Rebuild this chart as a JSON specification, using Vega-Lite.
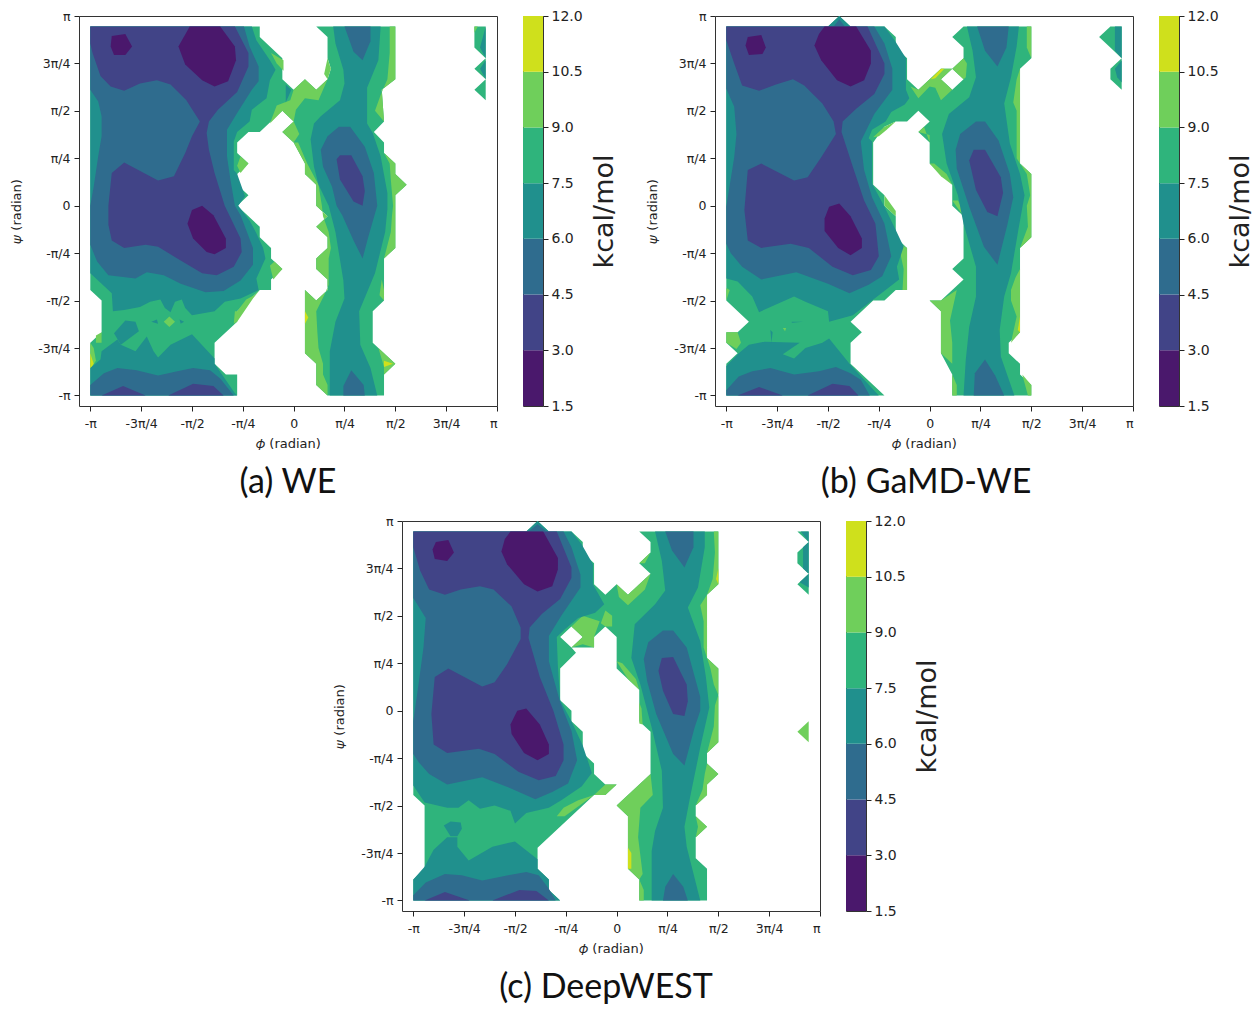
{"$schema":"https://vega.github.io/schema/vega-lite/v6.json","background":"white","padding":{"left":10,"top":8,"right":0,"bottom":0},
"config":{"view":{"stroke":"#333"},"axis":{"grid":false,"domain":false,"tickColor":"#222","tickSize":5,"labelColor":"#222","titleColor":"#222","labelFont":"DejaVu Sans","titleFont":"DejaVu Sans","labelFontSize":12.5,"titleFontSize":13,"titleFontWeight":"normal","labelAngle":0},"axisX":{"labelPadding":6},"axisY":{"labelPadding":4},"title":{"font":"Lato","fontSize":34,"fontWeight":"normal","color":"#111"}},
"datasets":{
"bar":[{"lo":1.5,"hi":3,"l":1},{"lo":3,"hi":4.5,"l":2},{"lo":4.5,"hi":6,"l":3},{"lo":6,"hi":7.5,"l":4},{"lo":7.5,"hi":9,"l":5},{"lo":9,"hi":10.5,"l":6},{"lo":10.5,"hi":12,"l":7}],
"a":[
{"g":1,"l":5,"phi":[-180,-30,-30,-10,-10,0,10,20,30,33,30,30,20,90,90,78,80,71,80,80,90,90,100,90,90,80,80,70,70,90,80,80,30,20,20,10,10,20,30,30,20,20,30,30,20,30,20,20,10,10,0,-10,0,-10,-30,-40,-50,-50,-40,-50,-50,-40,-50,-30,-30,-20,-20,-10,-20,-20,-30,-50,-50,-70,-70,-60,-50,-50,-180,-180,-170,-170,-180],"psi":[170,170,160,140,120,110,120,110,120,130,140,160,170,170,120,110,80,70,60,50,40,30,20,10,-40,-50,-90,-100,-130,-150,-160,-180,-180,-170,-150,-140,-80,-90,-80,-70,-60,-50,-40,-30,-20,-10,0,20,30,40,60,70,80,90,70,70,60,50,40,30,20,10,0,-20,-30,-40,-50,-60,-70,-80,-80,-100,-110,-130,-150,-160,-160,-180,-180,-130,-120,-90,-80]},
{"g":2,"l":5,"phi":[160,170,170,160,170,160,170,160],"psi":[170,170,100,110,120,130,140,150]},
{"g":3,"l":6,"phi":[-20,-9,-9,-15],"psi":[145,138,128,135]},
{"g":4,"l":6,"phi":[-21,-10,0,2,10,22,30,20,10,0,-3,-15],"psi":[78,90,80,91,102,100,120,110,120,110,100,95]},
{"g":5,"l":6,"phi":[0,-10,0,5],"psi":[80,70,60,68]},
{"g":6,"l":6,"phi":[-47,-40,-47,-50],"psi":[47,40,31,38]},
{"g":7,"l":6,"phi":[-21,-17,-10,-18],"psi":[-57,-53,-60,-70]},
{"g":8,"l":6,"phi":[-50,-42,-35,-30,-36,-50,-53,-52],"psi":[-100,-89,-85,-80,-88,-110,-112,-100]},
{"g":9,"l":6,"phi":[-175,-170,-170,-175],"psi":[-123,-120,-130,-130]},
{"g":10,"l":6,"phi":[-180,-180,-175,-177],"psi":[-130,-155,-147,-135]},
{"g":11,"l":6,"phi":[-115,-110,-105,-110],"psi":[-110,-105,-110,-115]},
{"g":12,"l":6,"phi":[85,90,90,78,80,72,77,83,85],"psi":[170,170,120,110,80,90,105,120,145]},
{"g":13,"l":6,"phi":[80,90,90,100,90,90,80,86,87,88,86,85],"psi":[50,40,30,20,10,-40,-50,-25,-10,0,25,40]},
{"g":14,"l":6,"phi":[30,33,30,27],"psi":[120,130,140,125]},
{"g":15,"l":6,"phi":[0,10,10,20,20,30,20,30,30,20,20,30,30,20,10,10,20,20,30,30,26,26,22,21,20,27,31,31,33,31,26,25,22,12,4],"psi":[60,40,30,20,0,-10,-20,-30,-40,-50,-60,-70,-80,-90,-80,-140,-150,-170,-180,-170,-160,-150,-135,-120,-100,-85,-75,-50,-40,-25,-10,0,20,40,60]},
{"g":16,"l":6,"phi":[75,90,80,80],"psi":[-135,-150,-160,-153]},
{"g":17,"l":6,"phi":[80,80,76,78],"psi":[-80,-90,-85,-70]},
{"g":18,"l":7,"phi":[80,88,80],"psi":[-147,-150,-153]},
{"g":19,"l":7,"phi":[-180,-180,-177],"psi":[-140,-155,-150]},
{"g":20,"l":7,"phi":[10,10,13],"psi":[-100,-112,-106]},
{"g":21,"l":6,"phi":[160,163,160],"psi":[170,170,164]},
{"g":22,"l":4,"phi":[-180,-37,-33,-21,-16,-21,-24,-37,-39,-50,-53,-53,-50,-46,-43,-49,-39,-33,-27,-25,-33,-31,-47,-61,-70,-90,-96,-99,-105,-109,-114,-118,-127,-136,-150,-160,-161,-170,-180],"psi":[170,170,157,138,129,119,102,91,80,70,61,34,30,18,9,0,-14,-26,-40,-50,-69,-80,-88,-91,-100,-104,-97,-89,-91,-101,-97,-89,-91,-96,-99,-100,-83,-74,-64]},
{"g":23,"l":4,"phi":[-7,-2,-7],"psi":[115,110,98]},
{"g":24,"l":4,"phi":[-180,-171,-170,-156,-153,-140,-130,-124,-120,-109,-90,-70,-70,-52,-50,-180],"psi":[-154,-146,-138,-127,-132,-138,-124,-138,-144,-132,-122,-145,-150,-178,-180,-180]},
{"g":25,"l":4,"phi":[-159,-149,-140,-137,-153],"psi":[-121,-109,-110,-119,-132]},
{"g":26,"l":4,"phi":[-126,-121,-120],"psi":[-110,-108,-112]},
{"g":27,"l":4,"phi":[-101,-97,-100],"psi":[-108,-110,-112]},
{"g":28,"l":4,"phi":[35,77,75,65,65,70,77,83,83,81,72,58,59,68,74,32,32,37,45,44,37,31,22,18,15,18,24,41,45,44,37],"psi":[170,170,138,112,78,69,47,12,-3,-25,-64,-100,-132,-154,-180,-180,-138,-110,-88,-71,-25,0,20,37,63,78,85,100,116,129,154]},
{"g":29,"l":4,"phi":[165,170,170],"psi":[150,170,140]},
{"g":30,"l":4,"phi":[170,165,170],"psi":[138,130,120]},
{"g":31,"l":3,"phi":[-180,-44,-39,-31,-31,-37,-50,-59,-59,-56,-52,-47,-42,-36,-36,-47,-62,-78,-100,-115,-130,-140,-164,-174,-180,-180,-177,-173,-170,-170,-173,-180],"psi":[170,170,151,132,118,110,88,72,47,25,0,-9,-23,-40,-56,-71,-81,-82,-74,-66,-63,-69,-66,-53,-37,0,18,47,66,85,99,110]},
{"g":32,"l":3,"phi":[-180,-168,-156,-139,-120,-103,-89,-74,-65,-53,-180],"psi":[-170,-159,-154,-156,-161,-157,-154,-156,-164,-180,-180]},
{"g":33,"l":3,"phi":[45,68,68,61,53],"psi":[170,170,156,138,146]},
{"g":34,"l":3,"phi":[24,30,40,50,63,71,74,66,61,53,43,38,34,26],"psi":[53,66,75,75,56,31,0,-30,-50,-33,-9,0,18,37]},
{"g":35,"l":3,"phi":[44,44,51,62,63],"psi":[-180,-171,-156,-170,-180]},
{"g":36,"l":2,"phi":[-180,-52,-40,-40,-50,-67,-75,-77,-75,-70,-61,-47,-46,-53,-68,-81,-103,-120,-131,-150,-161,-164,-164,-161,-150,-120,-106,-96,-90,-83,-95,-109,-121,-136,-150,-162,-171,-178,-180],"psi":[170,170,145,132,108,91,80,69,53,31,0,-31,-44,-58,-66,-64,-50,-39,-37,-40,-33,-18,0,31,41,24,28,50,66,80,100,115,119,116,109,113,123,145,154]},
{"g":37,"l":2,"phi":[-170,-151,-131],"psi":[-180,-171,-180]},
{"g":38,"l":2,"phi":[-111,-89,-71,-62],"psi":[-180,-169,-171,-180]},
{"g":39,"l":2,"phi":[38,41,51,61,63,61,53,41],"psi":[44,48,48,28,14,0,4,25]},
{"g":40,"l":1,"phi":[-161,-149,-143,-149,-159,-162],"psi":[161,163,151,143,143,151]},
{"g":41,"l":1,"phi":[-92,-65,-52,-51,-58,-70,-81,-96,-102],"psi":[170,170,151,138,118,113,119,134,151]},
{"g":42,"l":1,"phi":[-90,-81,-71,-60,-60,-70,-77,-89,-94],"psi":[-4,0,-9,-31,-40,-46,-44,-31,-17]}
],
"b":[
{"g":1,"l":5,"phi":[-180,-90,-80,-70,-40,-30,-30,-20,-20,-10,0,10,20,10,20,30,20,30,30,20,30,90,90,80,80,90,90,80,80,70,70,80,80,90,90,20,20,10,10,0,10,30,20,30,30,20,20,0,0,-10,0,-10,-20,-30,-40,-50,-50,-40,-40,-30,-30,-20,-20,-30,-40,-50,-70,-60,-70,-70,-40,-180,-180,-170,-180,-180,-170,-160,-180],"psi":[170,170,180,170,170,160,150,140,120,110,120,130,130,120,110,120,130,140,150,160,170,170,140,130,40,30,-30,-40,-120,-130,-140,-150,-160,-170,-180,-180,-160,-140,-100,-90,-90,-70,-60,-50,-10,0,20,40,60,70,80,90,80,80,75,60,20,10,0,-10,-30,-40,-80,-80,-90,-90,-110,-120,-130,-150,-180,-180,-150,-140,-130,-120,-120,-110,-90]},
{"g":2,"l":5,"phi":[150,160,170,170],"psi":[160,170,170,140]},
{"g":3,"l":5,"phi":[170,160,160,170],"psi":[140,130,120,110]},
{"g":4,"l":6,"phi":[-17,-10,0,10,20,10,20,10,5,0,-10],"psi":[113,110,120,130,130,120,110,100,112,113,102]},
{"g":5,"l":7,"phi":[1,10,13,5],"psi":[120,130,130,121]},
{"g":6,"l":6,"phi":[20,30,33,32,30],"psi":[130,140,135,122,120]},
{"g":7,"l":6,"phi":[-50,-40,-30,-38,-45],"psi":[65,75,80,72,66]},
{"g":8,"l":6,"phi":[-10,-5,0,0],"psi":[70,75,60,67]},
{"g":9,"l":6,"phi":[0,10,20,15,4],"psi":[40,28,20,30,40]},
{"g":10,"l":6,"phi":[20,30,30,25],"psi":[5,-10,-5,5]},
{"g":11,"l":6,"phi":[-40,-40,-30,-30],"psi":[10,0,-10,-5]},
{"g":12,"l":6,"phi":[-20,-20,-24,-23,-28],"psi":[-40,-80,-80,-60,-35]},
{"g":13,"l":6,"phi":[-180,-170,-167,-171,-180],"psi":[-120,-120,-130,-136,-130]},
{"g":14,"l":6,"phi":[-180,-177,-180],"psi":[-78,-80,-90]},
{"g":15,"l":6,"phi":[90,86,86,90],"psi":[170,170,150,140]},
{"g":16,"l":6,"phi":[80,80,77,77,74,77],"psi":[130,40,45,90,98,120]},
{"g":17,"l":6,"phi":[80,90,90,80,87,86,89,86],"psi":[40,30,-30,-40,-20,0,10,30]},
{"g":18,"l":6,"phi":[80,80,72,77,72,72,76],"psi":[-60,-120,-130,-105,-90,-80,-68]},
{"g":19,"l":7,"phi":[80,80,78],"psi":[-105,-120,-118]},
{"g":20,"l":6,"phi":[0,10,24,18,20,20,10,10],"psi":[-90,-90,-80,-109,-130,-150,-140,-100]},
{"g":21,"l":6,"phi":[20,24,24,20],"psi":[-160,-170,-180,-180]},
{"g":22,"l":6,"phi":[90,90,87,82],"psi":[-170,-180,-180,-160]},
{"g":23,"l":6,"phi":[-130,-127,-128],"psi":[-116,-116,-119]},
{"g":24,"l":4,"phi":[-180,-40,-31,-21,-21,-18,-22,-34,-39,-51,-54,-51,-51,-40,-30,-23,-29,-27,-39,-51,-68,-89,-90,-110,-120,-151,-157,-170,-180],"psi":[170,170,157,140,110,102,96,89,80,72,64,61,21,-1,-23,-39,-58,-70,-80,-90,-104,-110,-100,-91,-86,-101,-86,-72,-69]},
{"g":25,"l":4,"phi":[-90,-80,-70,-60],"psi":[170,180,170,170]},
{"g":26,"l":4,"phi":[-180,-169,-160,-146,-115,-130,-120,-110,-95,-89,-70,-45,-180],"psi":[-152,-140,-132,-129,-130,-141,-145,-135,-130,-126,-151,-180,-180]},
{"g":27,"l":4,"phi":[-141,-140,-139],"psi":[-118,-130,-120]},
{"g":28,"l":4,"phi":[-122,-112,-122],"psi":[-110,-110,-111]},
{"g":29,"l":4,"phi":[33,79,77,72,66,71,80,84,79,72,66,62,63,75,30,32,35,41,41,30,25,15,11,17,35,41,38],"psi":[170,170,151,122,97,59,30,10,-20,-64,-86,-118,-143,-180,-180,-146,-115,-86,-58,-17,10,40,68,87,103,122,147]},
{"g":30,"l":4,"phi":[164,170,170,164],"psi":[170,170,140,147]},
{"g":31,"l":4,"phi":[170,164,166,170],"psi":[138,130,122,117]},
{"g":32,"l":3,"phi":[-180,-49,-40,-33,-33,-49,-61,-58,-51,-40,-34,-42,-54,-71,-90,-118,-149,-166,-176,-180,-180,-173,-171,-173,-180],"psi":[170,170,154,130,110,87,61,34,8,-17,-48,-67,-75,-83,-74,-63,-70,-58,-45,-36,-1,46,68,94,111]},
{"g":33,"l":3,"phi":[-85,-80,-75],"psi":[170,177,170]},
{"g":34,"l":3,"phi":[-180,-169,-157,-141,-120,-98,-83,-70,-61,-53,-180],"psi":[-175,-162,-157,-154,-160,-157,-153,-159,-165,-180,-180]},
{"g":35,"l":3,"phi":[42,70,68,60,49],"psi":[170,170,150,132,147]},
{"g":36,"l":3,"phi":[23,27,41,49,61,71,74,69,60,48,35,24],"psi":[53,68,80,80,62,30,8,-17,-56,-39,-1,35]},
{"g":37,"l":3,"phi":[39,40,49,58,66],"psi":[-180,-159,-146,-161,-180]},
{"g":38,"l":2,"phi":[-180,-55,-40,-40,-49,-65,-77,-78,-68,-58,-48,-45,-52,-68,-86,-107,-123,-149,-161,-164,-161,-149,-120,-108,-96,-83,-85,-95,-111,-121,-136,-151,-166,-173,-180],"psi":[170,170,135,125,106,92,80,70,37,5,-17,-48,-61,-66,-58,-40,-36,-40,-33,-4,34,40,24,27,46,68,80,97,114,120,115,109,114,135,157]},
{"g":39,"l":2,"phi":[-170,-151,-130],"psi":[-180,-172,-180]},
{"g":40,"l":2,"phi":[-108,-86,-71,-63],"psi":[-180,-169,-171,-180]},
{"g":41,"l":2,"phi":[35,39,49,63,65,60,51,41],"psi":[43,53,53,27,12,-10,-6,15]},
{"g":42,"l":1,"phi":[-161,-149,-145,-148,-160,-163],"psi":[160,162,150,144,143,152]},
{"g":43,"l":1,"phi":[-93,-65,-52,-52,-58,-70,-82,-96,-102,-98],"psi":[170,170,147,135,119,113,119,138,152,163]},
{"g":44,"l":1,"phi":[-93,-89,-80,-70,-60,-60,-70,-81,-93],"psi":[-12,-1,2,-10,-31,-40,-47,-40,-24]}
],
"c":[
{"g":1,"l":5,"phi":[-180,-80,-70,-60,-40,-30,-30,-20,-20,-10,0,10,30,20,30,30,20,90,90,80,80,90,90,80,80,90,80,80,70,70,80,70,70,80,80,20,20,10,10,0,30,30,20,20,0,0,-10,-20,-20,-40,-30,-40,-50,-40,-36,-50,-50,-40,-40,-30,-30,-20,-20,-10,0,-10,-20,-70,-70,-60,-60,-50,-180,-180,-170,-170,-180],"psi":[170,170,180,170,170,160,150,140,120,110,120,110,130,140,150,160,170,170,120,110,50,40,-30,-40,-50,-60,-70,-80,-90,-100,-110,-120,-140,-150,-180,-180,-160,-150,-100,-90,-60,-20,-10,20,40,70,80,70,60,60,70,80,70,60,55,40,10,0,-10,-20,-40,-50,-60,-70,-70,-80,-80,-130,-150,-160,-170,-180,-180,-160,-150,-90,-80]},
{"g":2,"l":5,"phi":[170,160,160,170],"psi":[160,150,140,130]},
{"g":3,"l":5,"phi":[170,160,170],"psi":[130,120,110]},
{"g":4,"l":5,"phi":[160,170,170],"psi":[170,170,160]},
{"g":5,"l":6,"phi":[160,170,170],"psi":[-20,-10,-30]},
{"g":6,"l":6,"phi":[20,30,25],"psi":[140,150,140]},
{"g":7,"l":6,"phi":[0,10,30,25,10,2],"psi":[120,110,130,115,100,108]},
{"g":8,"l":6,"phi":[-14,-10,-4,-4,-10],"psi":[83,95,90,80,80]},
{"g":9,"l":6,"phi":[-40,-30,-15,-20,-20,-30,-40,-30],"psi":[80,90,85,70,60,63,60,70]},
{"g":10,"l":6,"phi":[0,10,20,17,5],"psi":[47,30,20,30,45]},
{"g":11,"l":6,"phi":[20,20,23,22],"psi":[8,-12,-13,2]},
{"g":12,"l":6,"phi":[0,30,32,21,19,23,20,10,10],"psi":[-90,-60,-80,-92,-120,-155,-160,-150,-100]},
{"g":13,"l":7,"phi":[10,10,13,13],"psi":[-130,-150,-150,-135]},
{"g":14,"l":6,"phi":[20,24,24,20],"psi":[-160,-170,-180,-180]},
{"g":15,"l":6,"phi":[86,90,90,80,85,87],"psi":[170,170,120,110,125,150]},
{"g":16,"l":7,"phi":[90,90,88],"psi":[135,120,125]},
{"g":17,"l":6,"phi":[80,80,77,77,74],"psi":[110,50,60,85,100]},
{"g":18,"l":6,"phi":[80,90,90,86,83],"psi":[50,40,15,25,40]},
{"g":19,"l":6,"phi":[90,90,80,86,87],"psi":[15,-30,-40,-15,5]},
{"g":20,"l":6,"phi":[80,90,80,80,70,76,78],"psi":[-50,-60,-70,-80,-90,-75,-60]},
{"g":21,"l":6,"phi":[70,80,70,72],"psi":[-100,-110,-120,-110]},
{"g":22,"l":6,"phi":[-53,-47,-34,-20,-46],"psi":[-100,-92,-85,-80,-100]},
{"g":23,"l":6,"phi":[-20,-10,0,-10],"psi":[-80,-70,-70,-80]},
{"g":24,"l":4,"phi":[-180,-40,-31,-21,-21,-11,-19,-34,-46,-53,-52,-50,-40,-30,-25,-22,-31,-49,-60,-80,-90,-94,-108,-121,-131,-140,-150,-170,-180],"psi":[170,170,158,139,120,101,93,88,77,70,42,10,-10,-33,-49,-59,-72,-85,-92,-97,-107,-95,-90,-93,-85,-92,-92,-87,-71]},
{"g":25,"l":4,"phi":[-80,-70,-60],"psi":[170,180,170]},
{"g":26,"l":4,"phi":[-180,-170,-162,-150,-141,-141,-131,-110,-90,-70,-70,-60,-60,-50,-180],"psi":[-160,-148,-132,-120,-120,-129,-142,-129,-124,-141,-150,-160,-170,-180,-180]},
{"g":27,"l":4,"phi":[-153,-147,-138,-137,-141,-147],"psi":[-109,-105,-106,-112,-119,-119]},
{"g":28,"l":4,"phi":[34,78,78,72,63,74,79,82,74,65,60,62,74,31,31,34,41,40,31,21,13,16,34,43,40],"psi":[170,170,155,117,98,66,32,3,-35,-82,-110,-129,-180,-180,-133,-114,-92,-57,-16,25,50,82,101,114,142]},
{"g":29,"l":4,"phi":[163,170,170],"psi":[170,170,160]},
{"g":30,"l":4,"phi":[165,170,170,165],"psi":[155,160,130,135]},
{"g":31,"l":4,"phi":[162,170,170],"psi":[122,130,117]},
{"g":32,"l":3,"phi":[-180,-47,-40,-32,-32,-49,-60,-60,-50,-40,-35,-43,-57,-72,-93,-119,-150,-166,-175,-180,-180,-175,-171,-169,-180],"psi":[170,170,155,129,117,90,71,47,8,-19,-47,-69,-77,-84,-74,-63,-70,-60,-49,-41,-10,28,60,88,107]},
{"g":33,"l":3,"phi":[-78,-70,-62],"psi":[170,177,170]},
{"g":34,"l":3,"phi":[-180,-169,-152,-137,-119,-96,-80,-69,-60,-54,-180],"psi":[-175,-163,-155,-156,-161,-156,-153,-156,-169,-180,-180]},
{"g":35,"l":3,"phi":[43,68,68,60,49],"psi":[170,170,155,136,152]},
{"g":36,"l":3,"phi":[24,28,41,50,62,74,74,69,60,50,35,27],"psi":[49,65,76,76,60,13,0,-16,-52,-41,-3,28]},
{"g":37,"l":3,"phi":[41,43,50,59,63],"psi":[-180,-167,-155,-167,-180]},
{"g":38,"l":2,"phi":[-180,-53,-40,-40,-50,-66,-77,-78,-68,-56,-47,-47,-54,-69,-87,-108,-122,-150,-162,-164,-161,-149,-119,-108,-97,-85,-85,-93,-109,-121,-138,-152,-166,-174,-180],"psi":[170,170,136,126,106,92,79,69,32,0,-32,-47,-62,-66,-58,-41,-36,-40,-32,-3,32,40,23,27,44,68,79,99,115,118,115,110,115,133,155]},
{"g":39,"l":2,"phi":[-170,-152,-130],"psi":[-180,-172,-180]},
{"g":40,"l":2,"phi":[-110,-86,-71,-60],"psi":[-180,-170,-171,-180]},
{"g":41,"l":2,"phi":[37,40,50,62,63,60,50,41],"psi":[38,50,51,25,9,-5,-3,19]},
{"g":42,"l":1,"phi":[-160,-149,-144,-150,-161,-163],"psi":[160,162,150,142,144,153]},
{"g":43,"l":1,"phi":[-94,-65,-52,-52,-57,-70,-82,-97,-102,-99],"psi":[170,170,145,134,118,113,120,139,151,163]},
{"g":44,"l":1,"phi":[-94,-88,-80,-68,-60,-60,-70,-82,-93],"psi":[-13,0,2,-13,-32,-41,-47,-40,-22]}
]},
"vconcat":[
{"bounds":"flush","spacing":26,"hconcat":[
{"width":418,"height":390,"title":{"text":"(a) WE","orient":"bottom","anchor":"middle","offset":15},"data":{"name":"a"},"transform":[{"flatten":["phi","psi"]}],"mark":{"type":"line","strokeWidth":0,"clip":true},"encoding":{"x":{"field":"phi","type":"quantitative","scale":{"domain":[-190,180],"nice":false,"zero":false},"axis":{"values":[-180,-135,-90,-45,0,45,90,135,180],"labelExpr":"{'-180':'-π','-135':'-3π/4','-90':'-π/2','-45':'-π/4','0':'0','45':'π/4','90':'π/2','135':'3π/4','180':'π'}[datum.value]","title":"𝜙 (radian)","titlePadding":8}},"y":{"field":"psi","type":"quantitative","scale":{"domain":[-190,180],"nice":false,"zero":false},"axis":{"values":[-180,-135,-90,-45,0,45,90,135,180],"labelExpr":"{'-180':'-π','-135':'-3π/4','-90':'-π/2','-45':'-π/4','0':'0','45':'π/4','90':'π/2','135':'3π/4','180':'π'}[datum.value]","title":"𝜓 (radian)","titlePadding":14}},"fill":{"field":"l","type":"ordinal","scale":{"domain":[1,2,3,4,5,6,7],"range":["#4a186c","#414487","#2f6c8e","#20908d","#2fb47c","#6fcf5b","#cfe01c"]},"legend":null},"detail":{"field":"g"},"order":{"value":null}}},
{"width":20,"height":390,"data":{"name":"bar"},"mark":{"type":"rect"},"encoding":{"y":{"field":"lo","type":"quantitative","scale":{"domain":[1.5,12],"nice":false,"zero":false},"axis":{"orient":"right","values":[1.5,3,4.5,6,7.5,9,10.5,12],"format":".1f","labelFontSize":14,"labelPadding":3,"title":"kcal/mol","titleFontSize":27,"titleAngle":270,"titlePadding":36}},"y2":{"field":"hi"},"fill":{"field":"l","type":"ordinal","scale":{"domain":[1,2,3,4,5,6,7],"range":["#4a186c","#414487","#2f6c8e","#20908d","#2fb47c","#6fcf5b","#cfe01c"]},"legend":null}}},
{"width":120,"height":390,"view":{"stroke":null},"data":{"values":[{"e":0}]},"mark":{"type":"rect","opacity":0},"encoding":{}},
{"width":418,"height":390,"title":{"text":"(b) GaMD-WE","orient":"bottom","anchor":"middle","offset":15,"dx":2},"data":{"name":"b"},"transform":[{"flatten":["phi","psi"]}],"mark":{"type":"line","strokeWidth":0,"clip":true},"encoding":{"x":{"field":"phi","type":"quantitative","scale":{"domain":[-190,180],"nice":false,"zero":false},"axis":{"values":[-180,-135,-90,-45,0,45,90,135,180],"labelExpr":"{'-180':'-π','-135':'-3π/4','-90':'-π/2','-45':'-π/4','0':'0','45':'π/4','90':'π/2','135':'3π/4','180':'π'}[datum.value]","title":"𝜙 (radian)","titlePadding":8}},"y":{"field":"psi","type":"quantitative","scale":{"domain":[-190,180],"nice":false,"zero":false},"axis":{"values":[-180,-135,-90,-45,0,45,90,135,180],"labelExpr":"{'-180':'-π','-135':'-3π/4','-90':'-π/2','-45':'-π/4','0':'0','45':'π/4','90':'π/2','135':'3π/4','180':'π'}[datum.value]","title":"𝜓 (radian)","titlePadding":14}},"fill":{"field":"l","type":"ordinal","scale":{"domain":[1,2,3,4,5,6,7],"range":["#4a186c","#414487","#2f6c8e","#20908d","#2fb47c","#6fcf5b","#cfe01c"]},"legend":null},"detail":{"field":"g"},"order":{"value":null}}},
{"width":20,"height":390,"data":{"name":"bar"},"mark":{"type":"rect"},"encoding":{"y":{"field":"lo","type":"quantitative","scale":{"domain":[1.5,12],"nice":false,"zero":false},"axis":{"orient":"right","values":[1.5,3,4.5,6,7.5,9,10.5,12],"format":".1f","labelFontSize":14,"labelPadding":3,"title":"kcal/mol","titleFontSize":27,"titleAngle":270,"titlePadding":36}},"y2":{"field":"hi"},"fill":{"field":"l","type":"ordinal","scale":{"domain":[1,2,3,4,5,6,7],"range":["#4a186c","#414487","#2f6c8e","#20908d","#2fb47c","#6fcf5b","#cfe01c"]},"legend":null}}}
]},
{"bounds":"flush","spacing":26,"hconcat":[
{"width":297,"height":390,"view":{"stroke":null},"data":{"values":[{"e":0}]},"mark":{"type":"rect","opacity":0},"encoding":{}},
{"width":418,"height":390,"title":{"text":"(c) DeepWEST","orient":"bottom","anchor":"middle","offset":15,"dx":-5},"data":{"name":"c"},"transform":[{"flatten":["phi","psi"]}],"mark":{"type":"line","strokeWidth":0,"clip":true},"encoding":{"x":{"field":"phi","type":"quantitative","scale":{"domain":[-190,180],"nice":false,"zero":false},"axis":{"values":[-180,-135,-90,-45,0,45,90,135,180],"labelExpr":"{'-180':'-π','-135':'-3π/4','-90':'-π/2','-45':'-π/4','0':'0','45':'π/4','90':'π/2','135':'3π/4','180':'π'}[datum.value]","title":"𝜙 (radian)","titlePadding":8}},"y":{"field":"psi","type":"quantitative","scale":{"domain":[-190,180],"nice":false,"zero":false},"axis":{"values":[-180,-135,-90,-45,0,45,90,135,180],"labelExpr":"{'-180':'-π','-135':'-3π/4','-90':'-π/2','-45':'-π/4','0':'0','45':'π/4','90':'π/2','135':'3π/4','180':'π'}[datum.value]","title":"𝜓 (radian)","titlePadding":14}},"fill":{"field":"l","type":"ordinal","scale":{"domain":[1,2,3,4,5,6,7],"range":["#4a186c","#414487","#2f6c8e","#20908d","#2fb47c","#6fcf5b","#cfe01c"]},"legend":null},"detail":{"field":"g"},"order":{"value":null}}},
{"width":20,"height":390,"data":{"name":"bar"},"mark":{"type":"rect"},"encoding":{"y":{"field":"lo","type":"quantitative","scale":{"domain":[1.5,12],"nice":false,"zero":false},"axis":{"orient":"right","values":[1.5,3,4.5,6,7.5,9,10.5,12],"format":".1f","labelFontSize":14,"labelPadding":3,"title":"kcal/mol","titleFontSize":27,"titleAngle":270,"titlePadding":36}},"y2":{"field":"hi"},"fill":{"field":"l","type":"ordinal","scale":{"domain":[1,2,3,4,5,6,7],"range":["#4a186c","#414487","#2f6c8e","#20908d","#2fb47c","#6fcf5b","#cfe01c"]},"legend":null}}}
]}
],"spacing":13}
